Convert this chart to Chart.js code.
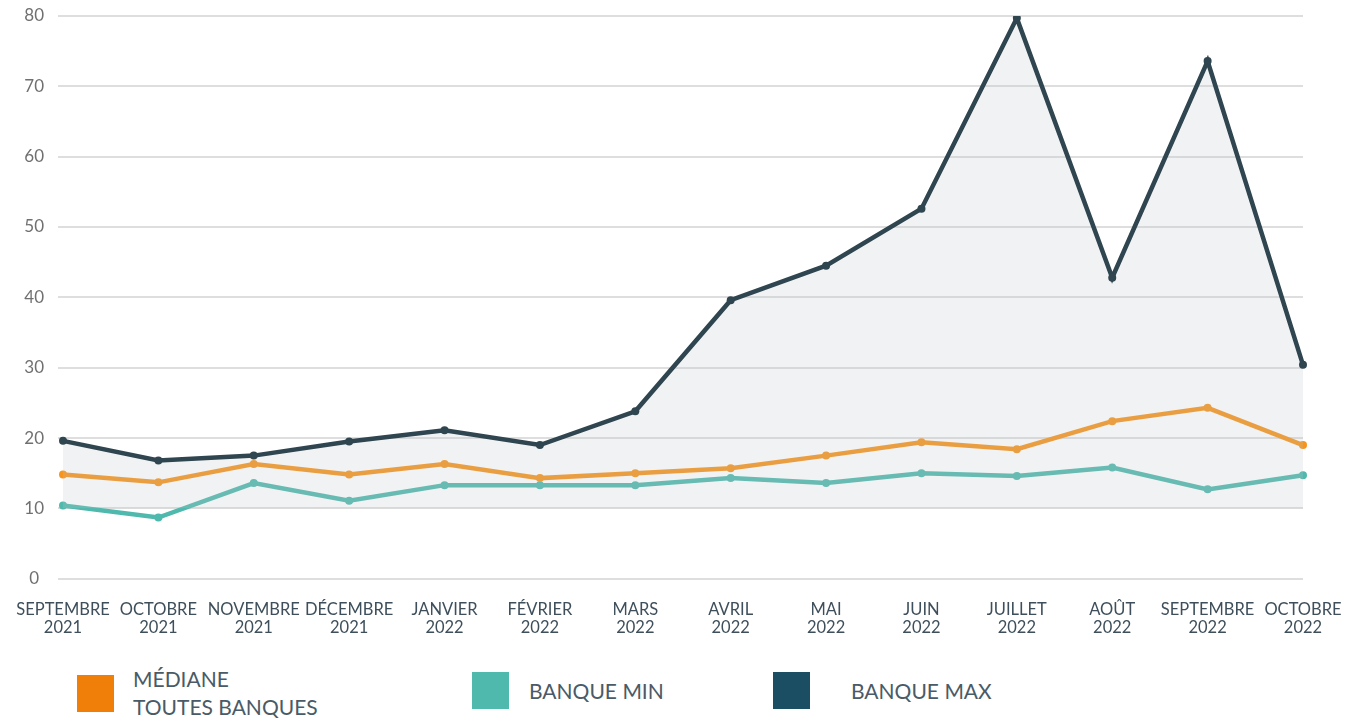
<!DOCTYPE html>
<html>
<head>
<meta charset="utf-8">
<script src="https://cdn.jsdelivr.net/npm/chart.js@4"></script>
<style>
  body { margin: 0; background: #fff; font-family: Lato, "Noto Sans", sans-serif; }
  #wrap { position: relative; width: 1359px; height: 719px; }
  #chartBox { position: absolute; left: 0; top: 0; width: 1359px; height: 651px; }
  .leg { position: absolute; display: flex; align-items: center; color: #4a5a66; font-size: 21px; line-height: 28px; }
  .leg .sq { width: 37px; height: 37px; margin-right: 19px; flex: none; }
</style>
</head>
<body>
<div id="wrap">
  <div id="chartBox"><canvas id="lineChart"></canvas></div>
  <div class="leg" style="left:77px; top:665px;"><span class="sq" style="background:#f07f09"></span><span>MÉDIANE<br>TOUTES BANQUES</span></div>
  <div class="leg" style="left:472px; top:672px;"><span class="sq" style="background:#50b9ae; margin-right:20px"></span><span>BANQUE MIN</span></div>
  <div class="leg" style="left:773px; top:672px;"><span class="sq" style="background:#1b4d63; margin-right:41px"></span><span>BANQUE MAX</span></div>
</div>
<script>
// months shown on the x axis (two-line labels)
const months = [
  ['SEPTEMBRE', '2021'], ['OCTOBRE', '2021'], ['NOVEMBRE', '2021'], ['DÉCEMBRE', '2021'],
  ['JANVIER', '2022'], ['FÉVRIER', '2022'], ['MARS', '2022'], ['AVRIL', '2022'],
  ['MAI', '2022'], ['JUIN', '2022'], ['JUILLET', '2022'], ['AOÛT', '2022'],
  ['SEPTEMBRE', '2022'], ['OCTOBRE', '2022']
];
const medianValues = [14.8, 13.7, 16.3, 14.8, 16.3, 14.3, 15.0, 15.7, 17.5, 19.4, 18.4, 22.4, 24.3, 19.0];
const minValues = [10.4, 8.7, 13.6, 11.1, 13.3, 13.3, 13.3, 14.3, 13.6, 15.0, 14.6, 15.8, 12.7, 14.7];
const maxValues = [19.6, 16.8, 17.5, 19.5, 21.1, 19.0, 23.8, 39.6, 44.5, 52.6, 79.7, 42.8, 73.6, 30.4];
const yTicks = [0, 10, 20, 30, 40, 50, 60, 70, 80];

const ctx = document.getElementById('lineChart');
const chart = new Chart(ctx, {
    type: 'line',
    data: {
        labels: months,
        datasets: [
            {
                label: 'Banque max',
                data: maxValues,
                borderColor: '#2f4550',
                backgroundColor: 'rgba(190, 196, 202, 0.22)',
                pointBackgroundColor: '#2f4550',
                fill: { value: 10 },
                borderWidth: 4.5,
                pointRadius: 4,
                pointBorderWidth: 0,
                tension: 0
            },
            {
                label: 'Médiane toutes banques',
                data: medianValues,
                borderColor: '#f7941d',
                pointBackgroundColor: '#f7941d',
                fill: false,
                borderWidth: 4.5,
                pointRadius: 4,
                pointBorderWidth: 0,
                tension: 0
            },
            {
                label: 'Banque min',
                data: minValues,
                borderColor: '#4fb9ad',
                pointBackgroundColor: '#4fb9ad',
                fill: false,
                borderWidth: 4.5,
                pointRadius: 4,
                pointBorderWidth: 0,
                tension: 0
            }
        ]
    },
    options: {
        responsive: true,
        maintainAspectRatio: false,
        animation: false,
        layout: { padding: { top: 16, right: 56, left: 0, bottom: 0 } },
        scales: {
            x: {
                offset: false,
                grid: { display: false },
                border: { display: false },
                afterFit: (scale) => { scale.paddingTop = 0; },
                ticks: {
                    color: '#3e4f5b',
                    font: { family: 'Lato', size: 16.5, lineHeight: 1.1 },
                    maxRotation: 0,
                    autoSkip: false,
                    padding: 14
                }
            },
            y: {
                min: 0,
                max: 80,
                afterBuildTicks: (scale) => { scale.ticks = yTicks.map(v => ({ value: v })); },
                afterFit: (scale) => { scale.width = 63; scale.paddingTop = 0; scale.paddingBottom = 0; },
                grid: { color: '#dedede', lineWidth: 2, tickLength: 5 },
                border: { display: false },
                ticks: {
                    color: '#707070',
                    font: { family: 'Lato', size: 17 },
                    crossAlign: 'center',
                    padding: 14
                }
            }
        },
        plugins: {
            legend: { display: false },
            tooltip: { enabled: false }
        }
    }
});
</script>
</body>
</html>
